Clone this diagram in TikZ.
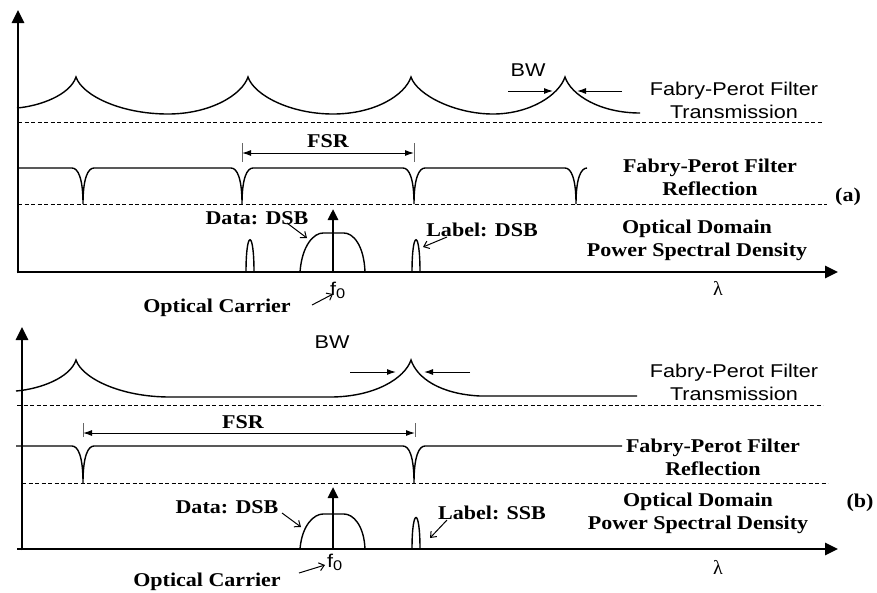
\documentclass[tikz,border=0pt]{standalone}
\usepackage{fontspec}
\setmainfont{Liberation Serif}
\newfontfamily\sansw[FakeStretch=1.17]{Liberation Sans}
\newfontfamily\serifw[FakeStretch=1.13]{Liberation Serif}
\usetikzlibrary{arrows.meta}
\begin{document}
\begin{tikzpicture}[x=1pt,y=-1pt,
  curve/.style={line width=1.4pt},
  axisline/.style={line width=2.8pt,-{Triangle[length=13pt,width=12pt]}},
  carrier/.style={line width=2.6pt,-{Triangle[length=11pt,width=10pt]}},
  sepline/.style={line width=1pt,dash pattern=on 4pt off 2.5pt},
  bwarrow/.style={line width=1pt,-{Latex[length=9pt,width=6pt]}},
  fsrarrow/.style={line width=1pt,{Latex[length=9pt,width=6pt]}-{Latex[length=9pt,width=6pt]}},
  fsrbar/.style={line width=0.8pt,black!60},
  lblarrow/.style={line width=1pt,-{Straight Barb[length=5pt,width=8pt]}},
  sanslbl/.style={font=\sansw\fontsize{18.5}{23}\selectfont,inner sep=0pt,align=center},
  boldlbl/.style={font=\serifw\bfseries\fontsize{19.5}{23}\selectfont,inner sep=0pt,align=center},
  greek/.style={font=\fontsize{20}{20}\selectfont,inner sep=0pt},
]
\useasboundingbox (0,0) rectangle (877,592);

% ================= panel (a) =================
% transmission
\draw[curve] (17,108) .. controls (40,106) and (70,95) .. (76,77)
  .. controls (82,95) and (120,114) .. (168,114)
  .. controls (210,114) and (242,95) .. (248,77)
  .. controls (254,95) and (290,114) .. (333,114)
  .. controls (375,114) and (405,95) .. (411,77)
  .. controls (417,95) and (455,114) .. (493,114)
  .. controls (530,114) and (559,95) .. (565,77)
  .. controls (571,95) and (600,113) .. (640,113);
\draw[sepline] (18,122.7) -- (823,122.7);
% reflection
\draw[curve] (17,168) -- (72,168) .. controls (78,168) and (83,178) .. (83,204) .. controls (83,178) and (88,168) .. (94,168)
  -- (231,168) .. controls (237,168) and (242,178) .. (242,204) .. controls (242,178) and (247,168) .. (253,168)
  -- (403,168) .. controls (409,168) and (414,178) .. (414,204) .. controls (414,178) and (419,168) .. (425,168)
  -- (565,168) .. controls (571,168) and (576,178) .. (576,204) .. controls (576,178) and (581,168) .. (587,168);
\draw[sepline] (18,204) -- (827,204);
% FSR
\coordinate (fsrAl) at (242,153);
\coordinate (fsrAr) at (414,153);
\draw[fsrbar] (242,143) -- (242,162);
\draw[fsrbar] (414,143) -- (414,162);
\draw[fsrarrow] (fsrAl) -- (fsrAr);
\node[boldlbl] (fsrA) at (328,141) {FSR};
% BW
\node[sanslbl] (bwA) at (528,70) {BW};
\coordinate (bwA1s) at (508,91); \coordinate (bwA1e) at (553,91);
\coordinate (bwA2s) at (622,91); \coordinate (bwA2e) at (577,91);
\draw[bwarrow] (bwA1s) -- (bwA1e);
\draw[bwarrow] (bwA2s) -- (bwA2e);
% PSD
\draw[curve] (300,272) .. controls (302,245) and (314,233) .. (323,233) -- (344,233) .. controls (353,233) and (364,245) .. (365,272);
\draw[curve] (246,272) .. controls (246,229) and (254,229) .. (254,272);
\draw[curve] (412,272) .. controls (412,229) and (420,229) .. (420,272);
\coordinate (carA0) at (333,272); \coordinate (carA1) at (333,209);
\draw[carrier] (carA0) -- (carA1);
% axes
\coordinate (yA) at (18,10);
\coordinate (xA) at (838,272);
\draw[axisline] (18,273.4) -- (yA);
\draw[axisline] (16.6,272) -- (xA);
% labels
\node[sanslbl] (fptA) at (734,100.5) {Fabry-Perot Filter\\Transmission};
\node[boldlbl] (fprA) at (710,177.5) {Fabry-Perot Filter\\Reflection};
\node[boldlbl] (tagA) at (848,197) {(a)};
\node[boldlbl] (psdA) at (697,240.5) {Optical Domain\\Power Spectral Density};
\node[greek] (lamA) at (718,288) {λ};
\node[boldlbl] (dataA) at (257,218) {Data: DSB};
\node[boldlbl] (labA) at (482,230) {Label: DSB};
\node[sanslbl,anchor=base west] (f0A) at (330,295) {f\raisebox{-3pt}{\fontsize{14}{14}\selectfont 0}};
\node[boldlbl] (ocA) at (217,308) {Optical Carrier};
\coordinate (dataA1) at (287,223); \coordinate (dataA2) at (307,238);
\draw[lblarrow] (dataA1) -- (dataA2);
\coordinate (labA1) at (447,237); \coordinate (labA2) at (423,247);
\draw[lblarrow] (labA1) -- (labA2);
\coordinate (ocA1) at (312,305); \coordinate (ocA2) at (333,294);
\draw[lblarrow] (ocA1) -- (ocA2);

% ================= panel (b) =================
\draw[curve] (16,391) .. controls (40,389) and (70,378) .. (76,360)
  .. controls (82,378) and (120,397) .. (170,397) -- (330,397)
  .. controls (375,397) and (405,378) .. (411,360)
  .. controls (417,378) and (440,394) .. (480,396) -- (637,396);
\draw[sepline] (17,405) -- (823,405);
\draw[curve] (16,446) -- (72,446) .. controls (78,446) and (83,456) .. (83,483) .. controls (83,456) and (88,446) .. (94,446)
  -- (403,446) .. controls (409,446) and (414,456) .. (414,483) .. controls (414,456) and (419,446) .. (425,446) -- (622,446);
\draw[sepline] (22,483) -- (828,483);
% FSR
\coordinate (fsrBl) at (83,433);
\coordinate (fsrBr) at (415,433);
\draw[fsrbar] (83,423) -- (83,437);
\draw[fsrbar] (415,423) -- (415,437);
\draw[fsrarrow] (fsrBl) -- (fsrBr);
\node[boldlbl] (fsrB) at (243,422) {FSR};
% BW
\node[sanslbl] (bwB) at (332,342) {BW};
\coordinate (bwB1s) at (350,372); \coordinate (bwB1e) at (396,372);
\coordinate (bwB2s) at (470,372); \coordinate (bwB2e) at (424,372);
\draw[bwarrow] (bwB1s) -- (bwB1e);
\draw[bwarrow] (bwB2s) -- (bwB2e);
% PSD
\draw[curve] (300,549) .. controls (302,525) and (314,514) .. (323,514) -- (344,514) .. controls (353,514) and (364,525) .. (365,549);
\draw[curve] (412,549) .. controls (412,507) and (420,507) .. (420,549);
\coordinate (carB0) at (333,549); \coordinate (carB1) at (333,487);
\draw[carrier] (carB0) -- (carB1);
% axes
\coordinate (yB) at (22,327);
\coordinate (xB) at (838,549);
\draw[axisline] (22,550.4) -- (yB);
\draw[axisline] (17,549) -- (xB);
% labels
\node[sanslbl] (fptB) at (734,382) {Fabry-Perot Filter\\Transmission};
\node[boldlbl] (fprB) at (713,457.5) {Fabry-Perot Filter\\Reflection};
\node[boldlbl] (tagB) at (860,503) {(b)};
\node[boldlbl] (psdB) at (698,513.5) {Optical Domain\\Power Spectral Density};
\node[greek] (lamB) at (718,567) {λ};
\node[boldlbl] (dataB) at (227,507) {Data: DSB};
\node[boldlbl] (labB) at (492,513) {Label: SSB};
\node[sanslbl,anchor=base west] (f0B) at (327,567) {f\raisebox{-3pt}{\fontsize{14}{14}\selectfont 0}};
\node[boldlbl] (ocB) at (207,582) {Optical Carrier};
\coordinate (dataB1) at (282,513); \coordinate (dataB2) at (301,527);
\draw[lblarrow] (dataB1) -- (dataB2);
\coordinate (labB1) at (447,520); \coordinate (labB2) at (430,538);
\draw[lblarrow] (labB1) -- (labB2);
\coordinate (ocB1) at (299,573); \coordinate (ocB2) at (325,565);
\draw[lblarrow] (ocB1) -- (ocB2);
\end{tikzpicture}
\end{document}
